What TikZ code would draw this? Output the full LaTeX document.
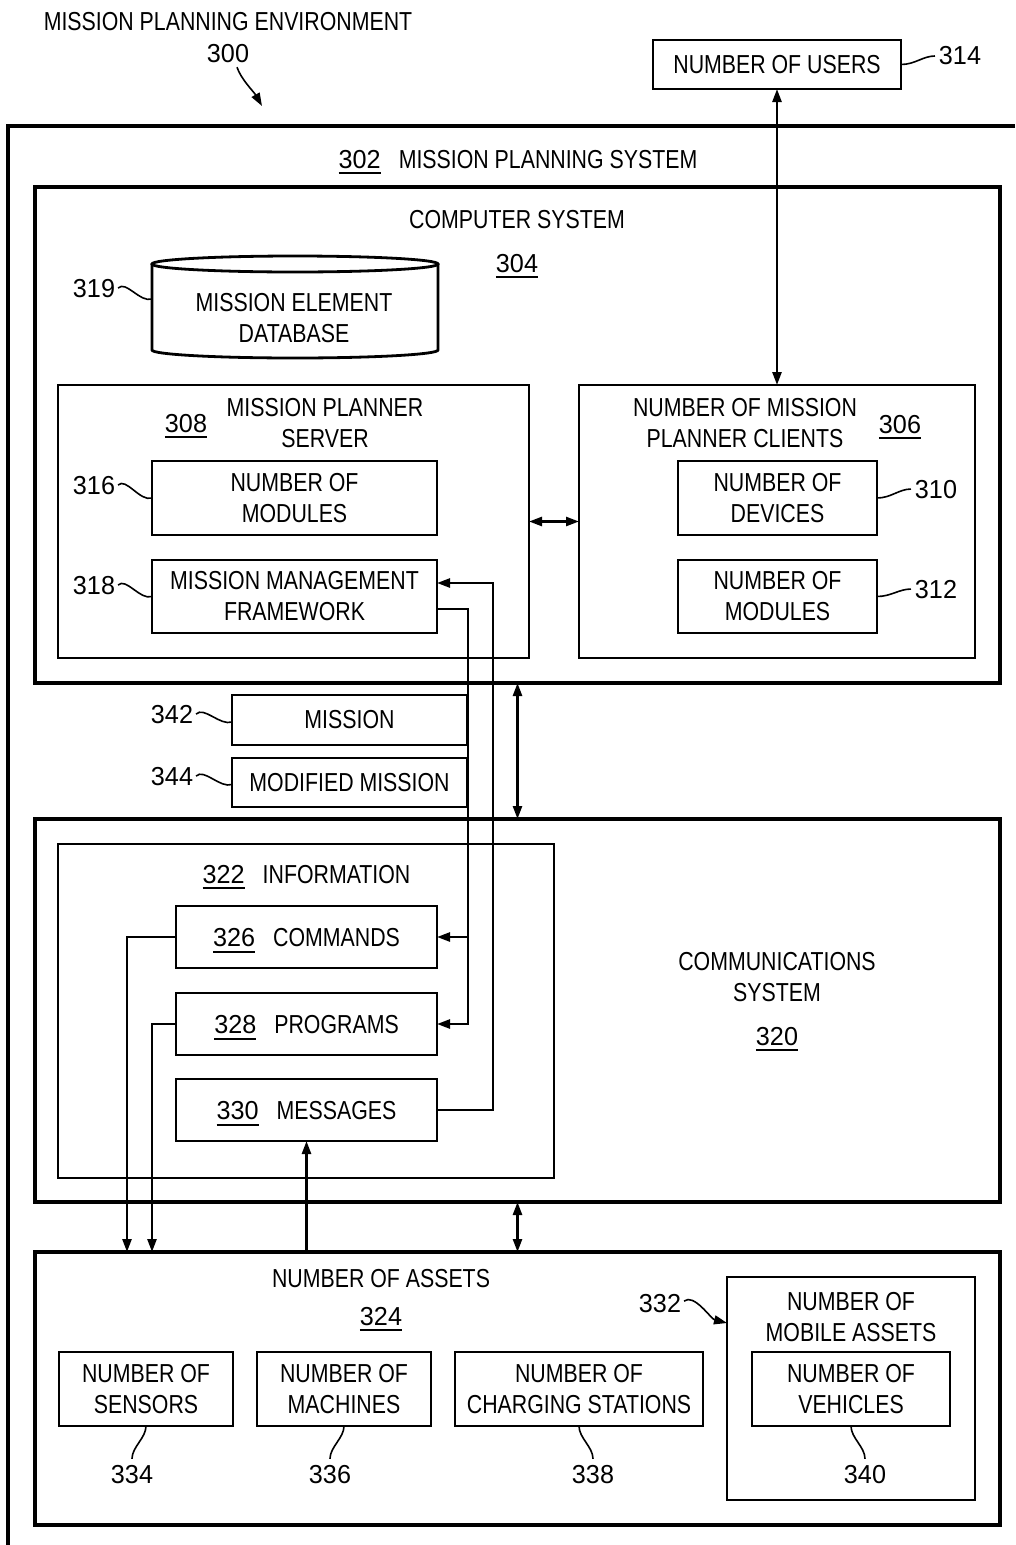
\documentclass[tikz,border=0pt]{standalone}
\usepackage{fontspec}
\setmainfont{Liberation Sans}[FakeStretch=0.82]
\newfontfamily\numf{Liberation Sans}[FakeStretch=0.97]
\usetikzlibrary{arrows.meta,calc}
\newcommand\refu[1]{\vtop{\hbox{\numf #1}\kern4pt\hrule height 2pt}}
\begin{document}
\begin{tikzpicture}[x=1pt,y=-1pt,
  every node/.style={font=\fontsize{26}{31}\selectfont, inner sep=0pt, outer sep=0pt},
  num/.style={font=\fontsize{26}{31}\selectfont\numf},
  bigbox/.style={draw, line width=3.2pt},
  box/.style={draw, line width=2.8pt},
  thinbox/.style={draw, line width=2pt},
  conn/.style={line width=2.5pt},
  tip/.style={-{Triangle[length=13pt,width=9pt]}},
  dtip/.style={{Triangle[length=13pt,width=9pt]}-{Triangle[length=13pt,width=9pt]}},
  sq/.style={line width=1.6pt},
  txt/.style={align=center},
  uline/.style={text height=19pt, text depth=0pt},
]
\useasboundingbox (0,0) rectangle (1015,1545);

% title
\node (title) at (228,22) {MISSION PLANNING ENVIRONMENT};
\node[num] (l300) at (228,54) {300};
\coordinate (a300) at (262,106);
\draw[sq, tip] ([xshift=9pt,yshift=-4pt]l300.south) .. controls +(4,12) and +(-8,-14) .. (a300);

% users
\node[box, minimum width=248pt, minimum height=49pt] (users) at (777,64.5) {NUMBER OF USERS};
\node[num] (l314) at (960,56) {314};
\draw[sq] (users.east) .. controls +(14,0) and +(-12,0) .. ([xshift=-4pt]l314.west);

% outer frame 302
\coordinate (f1) at (1015,126);
\coordinate (f2) at (8,126);
\coordinate (f3) at (8,1545);
\draw[line width=3.2pt] (f1) -- (f2) -- (f3);
\node[anchor=base] (t302) at (518,168) {\refu{302}\hspace{18pt}MISSION PLANNING SYSTEM};

% computer system
\node[bigbox, minimum width=965pt, minimum height=496pt] (cs) at (517.5,435) {};
\node[anchor=base] (tcs) at (517,228) {COMPUTER SYSTEM};
\node[anchor=base] (n304) at (517,272) {\refu{304}};

% database
\draw[box] (152,264) -- (152,350) arc[start angle=180, end angle=360, x radius=143pt, y radius=8pt] -- (438,264);
\draw[box] (295,264) ellipse [x radius=143pt, y radius=8pt];
\node[txt] (db) at (294,318) {MISSION ELEMENT\\DATABASE};
\node[num, anchor=base] (l319) at (94,297) {319};
\coordinate (dbL) at (152,299);
\draw[sq] ([xshift=3pt]l319.east) .. controls +(8,-8) and +(-12,4) .. (dbL);

% server
\node[box, minimum width=471pt, minimum height=273pt] (srv) at (293.5,521.5) {};
\node[txt] (tsrv) at (325,423) {MISSION PLANNER\\SERVER};
\node[anchor=base] (n308) at (186,432) {\refu{308}};
\node[box, txt, minimum width=285pt, minimum height=74pt] (b316) at (294.5,498) {NUMBER OF\\MODULES};
\node[box, txt, minimum width=285pt, minimum height=73pt] (mmf) at (294.5,596.5) {MISSION MANAGEMENT\\FRAMEWORK};
\node[num, anchor=base] (l316) at (94,494) {316};
\node[num, anchor=base] (l318) at (94,594) {318};
\draw[sq] ([xshift=3pt]l316.east) .. controls +(8,-8) and +(-12,4) .. (b316.west);
\draw[sq] ([xshift=3pt]l318.east) .. controls +(8,-8) and +(-12,4) .. (mmf.west);

% clients
\node[box, minimum width=396pt, minimum height=273pt] (cl) at (777,521.5) {};
\node[txt] (tcl) at (745,423) {NUMBER OF MISSION\\PLANNER CLIENTS};
\node[anchor=base] (n306) at (900,433) {\refu{306}};
\node[box, txt, minimum width=199pt, minimum height=74pt] (b310) at (777.5,498) {NUMBER OF\\DEVICES};
\node[box, txt, minimum width=199pt, minimum height=73pt] (b312) at (777.5,596.5) {NUMBER OF\\MODULES};
\node[num, anchor=base] (l310) at (936,498) {310};
\node[num, anchor=base] (l312) at (936,598) {312};
\draw[sq] (b310.east) .. controls +(14,0) and +(-12,0) .. ([xshift=-4pt]l310.west);
\draw[sq] (b312.east) .. controls +(14,0) and +(-12,0) .. ([xshift=-4pt]l312.west);

% arrows computer system
\draw[conn, dtip] (users.south) -- (cl.north);
\draw[conn, dtip] (srv.east) -- (cl.west);

% mission boxes
\node[thinbox, minimum width=235pt, minimum height=50pt] (m342) at (349.5,720) {MISSION};
\node[thinbox, minimum width=235pt, minimum height=49pt] (m344) at (349.5,782.5) {MODIFIED MISSION};
\node[num, anchor=base] (l342) at (172,723) {342};
\node[num, anchor=base] (l344) at (172,785) {344};
\draw[sq] ([xshift=3pt]l342.east) .. controls +(8,-8) and +(-12,4) .. ([yshift=-2pt]m342.west);
\draw[sq] ([xshift=3pt]l344.east) .. controls +(8,-8) and +(-12,4) .. ([yshift=-2pt]m344.west);

% communications system
\node[bigbox, minimum width=965pt, minimum height=383pt] (comm) at (517.5,1010.5) {};
\node[txt] (tcomm) at (777,977) {COMMUNICATIONS\\SYSTEM};
\node[anchor=base] (n320) at (777,1045) {\refu{320}};
\draw[conn, dtip] (cs.south) -- (comm.north);

% information
\node[box, minimum width=496pt, minimum height=334pt] (info) at (306,1011) {};
\node[anchor=base] (tinfo) at (306.5,883) {\refu{322}\hspace{18pt}INFORMATION};
\node[box, uline, minimum width=261pt, minimum height=62pt] (cmd) at (306.5,937) {\refu{326}\hspace{18pt}COMMANDS};
\node[box, uline, minimum width=261pt, minimum height=62pt] (prg) at (306.5,1024) {\refu{328}\hspace{18pt}PROGRAMS};
\node[box, uline, minimum width=261pt, minimum height=62pt] (msg) at (306.5,1110) {\refu{330}\hspace{18pt}MESSAGES};

% assets
\node[bigbox, minimum width=965pt, minimum height=273pt] (assets) at (517.5,1388.5) {};
\node[anchor=base] (tas) at (381,1287) {NUMBER OF ASSETS};
\node[anchor=base] (n324) at (381,1325) {\refu{324}};
\node[box, txt, minimum width=174pt, minimum height=74pt] (sens) at (146,1389) {NUMBER OF\\SENSORS};
\node[box, txt, minimum width=174pt, minimum height=74pt] (mach) at (344,1389) {NUMBER OF\\MACHINES};
\node[box, txt, minimum width=248pt, minimum height=74pt] (chg) at (579,1389) {NUMBER OF\\CHARGING STATIONS};
\node[box, minimum width=248pt, minimum height=223pt] (mob) at (851,1388.5) {};
\node[txt] (tmob) at (851,1317) {NUMBER OF\\MOBILE ASSETS};
\node[box, txt, minimum width=198pt, minimum height=74pt] (veh) at (851,1389) {NUMBER OF\\VEHICLES};
\node[num, anchor=base] (l334) at (132,1483) {334};
\node[num, anchor=base] (l336) at (330,1483) {336};
\node[num, anchor=base] (l338) at (593,1483) {338};
\node[num, anchor=base] (l340) at (865,1483) {340};
\node[num, anchor=base] (l332) at (660,1312) {332};
\draw[sq] (sens.south) .. controls +(0,12) and +(0,-12) .. ([yshift=6pt]l334.north);
\draw[sq] (mach.south) .. controls +(0,12) and +(0,-12) .. ([yshift=6pt]l336.north);
\draw[sq] (chg.south) .. controls +(0,12) and +(0,-12) .. ([yshift=6pt]l338.north);
\draw[sq] (veh.south) .. controls +(0,12) and +(0,-12) .. ([yshift=6pt]l340.north);
\draw[sq, tip] ([xshift=3pt,yshift=2pt]l332.east) .. controls +(10,-8) and +(-16,-4) .. ([yshift=65.5pt]mob.west);

% connectors between MMF and information items
\coordinate (j1) at (468,609);
\coordinate (j2) at (493,583);
\draw[conn] ([yshift=-12.5pt]mmf.east) -- (j1) -- (j1 |- cmd.east);
\draw[conn, tip] (j1 |- cmd.east) -- (cmd.east);
\draw[conn, tip] (j1 |- cmd.east) -- (j1 |- prg.east) -- (prg.east);
\draw[conn, tip] (msg.east) -- (j2 |- msg.east) -- (j2) -- ([yshift=13.5pt]mmf.east);

% connectors to assets
\coordinate (c1) at (127,937);
\coordinate (c2) at (152,1024);
\draw[conn, tip] (cmd.west) -- (c1) -- (c1 |- assets.north);
\draw[conn, tip] (prg.west) -- (c2) -- (c2 |- assets.north);
\draw[conn, tip] (msg.south |- assets.north) -- (msg.south);
\draw[conn, dtip] (comm.south) -- (assets.north);
\end{tikzpicture}
\end{document}
